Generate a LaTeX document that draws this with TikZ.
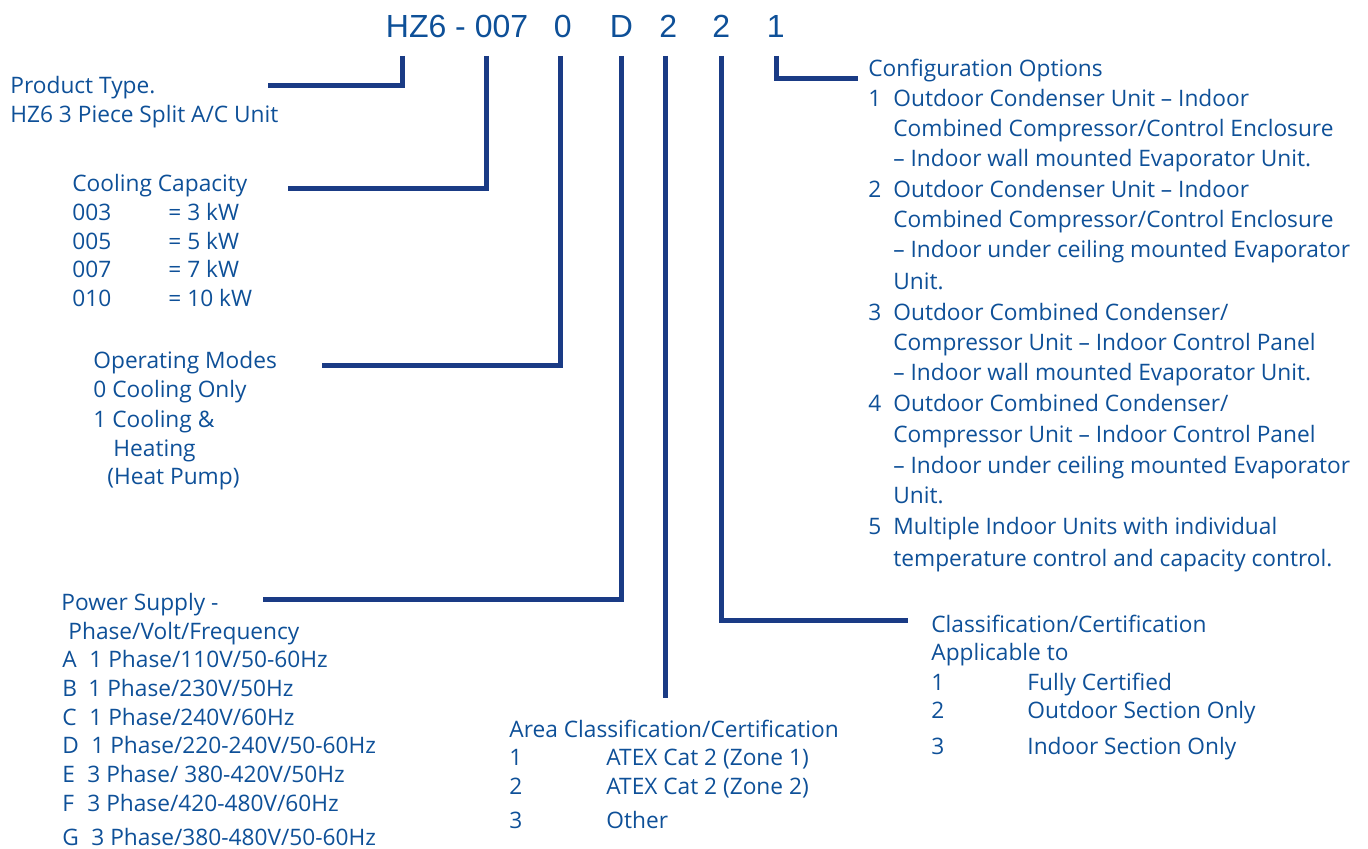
\documentclass[tikz,border=0pt]{standalone}
\usepackage{fontspec}
\setmainfont{Open Sans}
\newfontfamily\headfont{Liberation Sans}
\definecolor{textblue}{RGB}{14,80,152}
\definecolor{lineblue}{RGB}{26,59,133}
\tikzset{
  lbl/.style={anchor=base west, inner sep=0pt, text=textblue, font=\fontsize{11.35}{13}\selectfont},
  code/.style={anchor=base west, inner sep=0pt, text=textblue, font=\headfont\fontsize{16}{18}\selectfont},
  codeline/.style={draw=lineblue, line width=2.5pt, line join=miter},
}
\newcommand{\tagbox}[2]{\makebox[#1][l]{#2}}
\begin{document}
\begin{tikzpicture}[x=0.5pt, y=-0.5pt]
\useasboundingbox (0,0) rectangle (1368,849);
% model code
\node[code] (hz) at (385.5,38){HZ6 - 007};
\node[code] (cd0) at (553.5,38){0};
\node[code] (cdD) at (609.5,38){D};
\node[code] (cd2a) at (659,38){2};
\node[code] (cd2b) at (712,38){2};
\node[code] (cd1) at (766.5,38){1};
% product type
\node[lbl] (prod0) at (10,94){Product Type.};
\node[lbl] (prod1) at (10,123){HZ6 3 Piece Split A/C Unit};
% cooling capacity
\node[lbl] (cool0) at (72,192){Cooling Capacity};
\node[lbl] (cool1) at (72,221){\tagbox{48pt}{003}= 3 kW};
\node[lbl] (cool2) at (72,250){\tagbox{48pt}{005}= 5 kW};
\node[lbl] (cool3) at (72,278){\tagbox{48pt}{007}= 7 kW};
\node[lbl] (cool4) at (72,307){\tagbox{48pt}{010}= 10 kW};
% operating modes
\node[lbl] (oper0) at (93,369){Operating Modes};
\node[lbl] (oper1) at (93,398){0 Cooling Only};
\node[lbl] (oper2) at (93,427){1 Cooling \&};
\node[lbl] (oper3) at (113,456){Heating};
\node[lbl] (oper4) at (107,484){(Heat Pump)};
% power supply
\node[lbl] (pow0) at (61,610){Power Supply -};
\node[lbl] (pow1) at (68,639){Phase/Volt/Frequency};
\node[lbl] (powA) at (62,667){\tagbox{13.5pt}{A}1 Phase/110V/50-60Hz};
\node[lbl] (powB) at (62,696){\tagbox{13pt}{B}1 Phase/230V/50Hz};
\node[lbl] (powC) at (62,725){\tagbox{13.5pt}{C}1 Phase/240V/60Hz};
\node[lbl] (powD) at (62,753){\tagbox{14.5pt}{D}1 Phase/220-240V/50-60Hz};
\node[lbl] (powE) at (62,782){\tagbox{12.5pt}{E}3 Phase/ 380-420V/50Hz};
\node[lbl] (powF) at (62,811){\tagbox{12.5pt}{F}3 Phase/420-480V/60Hz};
\node[lbl] (powG) at (62,845){\tagbox{14.5pt}{G}3 Phase/380-480V/50-60Hz};
% area classification
\node[lbl] (area0) at (509,737){Area Classification/Certification};
\node[lbl] (area1) at (509,765){\tagbox{48.5pt}{1}ATEX Cat 2 (Zone 1)};
\node[lbl] (area2) at (509,794){\tagbox{48.5pt}{2}ATEX Cat 2 (Zone 2)};
\node[lbl] (area3) at (509,828){\tagbox{48.5pt}{3}Other};
% classification applicable to
\node[lbl] (cls0) at (931,632){Classification/Certification};
\node[lbl] (cls1) at (931,660){Applicable to};
\node[lbl] (cls2) at (931,690){\tagbox{48pt}{1}Fully Certified};
\node[lbl] (cls3) at (931,718){\tagbox{48pt}{2}Outdoor Section Only};
\node[lbl] (cls4) at (931,754){\tagbox{48pt}{3}Indoor Section Only};
% configuration options
\node[lbl] (cfg0) at (868,77){Configuration Options};
\node[lbl] (cfg1) at (868,107){\tagbox{12.5pt}{1}Outdoor Condenser Unit – Indoor};
\node[lbl] (cfg2) at (893,137){Combined Compressor/Control Enclosure};
\node[lbl] (cfg3) at (893,167){– Indoor wall mounted Evaporator Unit.};
\node[lbl] (cfg4) at (868,198){\tagbox{12.5pt}{2}Outdoor Condenser Unit – Indoor};
\node[lbl] (cfg5) at (893,228){Combined Compressor/Control Enclosure};
\node[lbl] (cfg6) at (893,258){– Indoor under ceiling mounted Evaporator};
\node[lbl] (cfg7) at (893,290){Unit.};
\node[lbl] (cfg8) at (868,321){\tagbox{12.5pt}{3}Outdoor Combined Condenser/};
\node[lbl] (cfg9) at (893,351){Compressor Unit – Indoor Control Panel};
\node[lbl] (cfg10) at (893,381){– Indoor wall mounted Evaporator Unit.};
\node[lbl] (cfg11) at (868,412){\tagbox{12.5pt}{4}Outdoor Combined Condenser/};
\node[lbl] (cfg12) at (893,442){Compressor Unit – Indoor Control Panel};
\node[lbl] (cfg13) at (893,473){– Indoor under ceiling mounted Evaporator};
\node[lbl] (cfg14) at (893,503){Unit.};
\node[lbl] (cfg15) at (868,534){\tagbox{12.5pt}{5}Multiple Indoor Units with individual};
\node[lbl] (cfg16) at (893,566){temperature control and capacity control.};
% leader lines
\coordinate (tprod) at (402.5,56);
\coordinate (eprod) at (268,86);
\coordinate (tcool) at (486,56);
\coordinate (ecool) at (288,188.5);
\coordinate (toper) at (560,56);
\coordinate (eoper) at (322,365.5);
\coordinate (tpow) at (621,56);
\coordinate (epow) at (263,599.5);
\coordinate (tarea) at (665.5,56);
\coordinate (earea) at (665.5,698);
\coordinate (tcls) at (721,56);
\coordinate (ecls) at (908,620.5);
\coordinate (tcfg) at (776.5,56);
\coordinate (ecfg) at (858,79);
\draw[codeline](tprod) |- (eprod);
\draw[codeline](tcool) |- (ecool);
\draw[codeline](toper) |- (eoper);
\draw[codeline](tpow) |- (epow);
\draw[codeline](tarea) -- (earea);
\draw[codeline](tcls) |- (ecls);
\draw[codeline](tcfg) |- (ecfg);
\end{tikzpicture}
\end{document}
